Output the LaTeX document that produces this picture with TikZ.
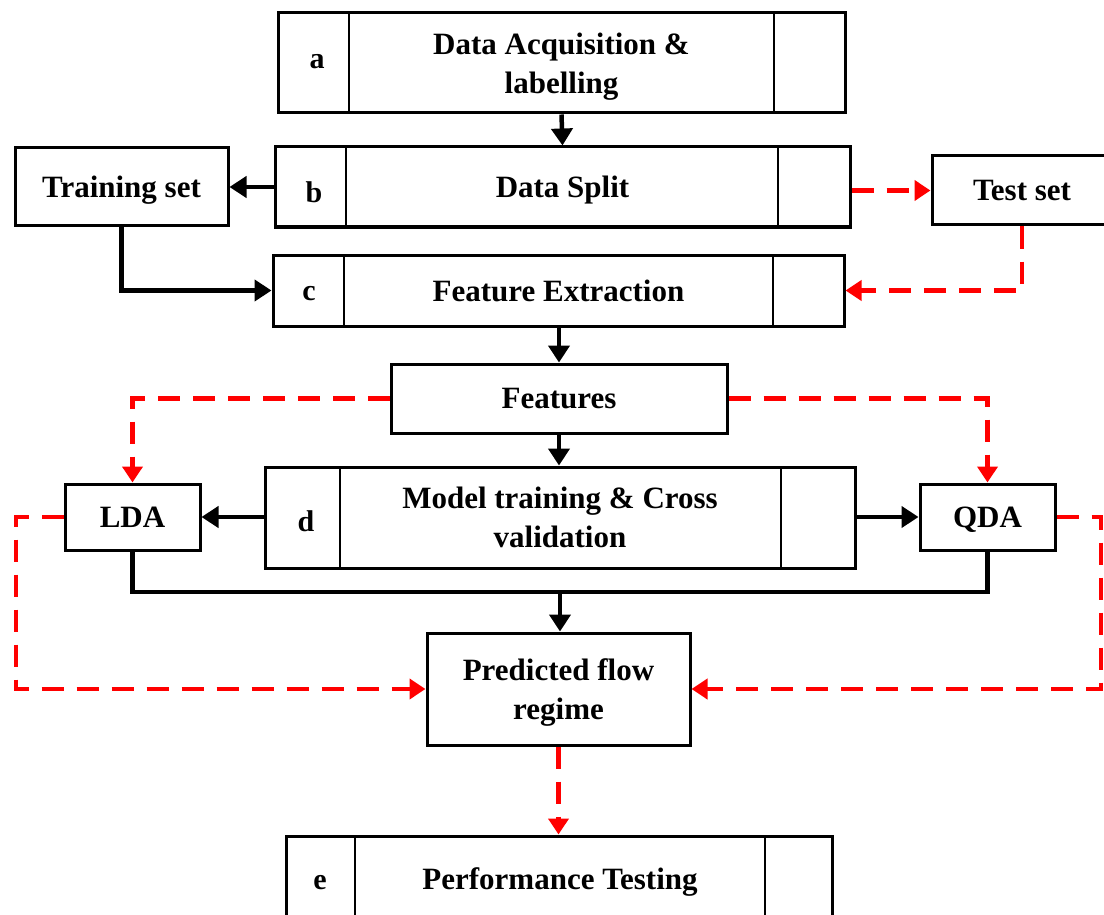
\documentclass[tikz,border=0pt]{standalone}
\usepackage{fontspec}
\setmainfont{Liberation Serif}
\usetikzlibrary{arrows.meta}
\definecolor{flowred}{RGB}{255,0,0}
\tikzset{
  box/.style={draw=black, line width=3pt, fill=white, inner sep=0pt,
    font=\bfseries\fontsize{31}{39}\selectfont, align=center, text depth=0pt},
  tag/.style={inner sep=0pt, font=\bfseries\fontsize{30}{32}\selectfont},
  divider/.style={draw=black, line width=2.2pt},
  flow/.style={draw=black, line width=4.5pt, -{Triangle[length=17pt,width=21pt]}},
  flowline/.style={draw=black, line width=4.5pt},
  alt/.style={draw=flowred, line width=4.5pt, dash pattern=on 22pt off 13pt,
    -{Triangle[length=16pt,width=20pt]}, color=flowred},
}
\begin{document}
\begin{tikzpicture}[x=1pt,y=-1pt]
\useasboundingbox (0,0) rectangle (1104,915);

% stage boxes
\node[box, minimum width=567pt, minimum height=100pt] (a) at (561.5,63) {Data Acquisition \&\\labelling};
\node[box, minimum width=575pt, minimum height=80pt] (b) at (562.5,187) {Data Split};
\node[box, minimum width=571pt, minimum height=71pt] (c) at (558.5,290.5) {Feature Extraction};
\node[box, minimum width=336pt, minimum height=69pt] (feat) at (559,398.5) {Features};
\node[box, minimum width=590pt, minimum height=101pt] (d) at (560,517.5) {Model training \& Cross\\validation};
\node[box, minimum width=263pt, minimum height=112pt] (pred) at (558.5,689) {Predicted flow\\regime};
\node[box, minimum width=546pt, minimum height=110pt] (e) at (559,891) {};
\node[font=\bfseries\fontsize{31}{39}\selectfont, inner sep=0pt, text depth=0pt] (etext) at (560,879) {Performance Testing};

% side boxes
\node[box, minimum width=213pt, minimum height=78pt] (train) at (121.5,187) {Training set};
\node[box, minimum width=180pt, minimum height=69pt] (test) at (1022,190.5) {Test set};
\node[box, minimum width=135pt, minimum height=66pt] (lda) at (132.5,517) {LDA};
\node[box, minimum width=135pt, minimum height=66pt] (qda) at (987.5,517) {QDA};

% cell dividers
\draw[divider] (349,13) -- (349,113) (774,13) -- (774,113);
\draw[divider] (346,147) -- (346,227) (778,147) -- (778,227);
\draw[divider] (344,255) -- (344,326) (773,255) -- (773,326);
\draw[divider] (340,467) -- (340,568) (781,467) -- (781,568);
\draw[divider] (355,836) -- (355,950) (765,836) -- (765,950);

% stage letters
\node[tag] (la) at (317,62) {a};
\node[tag] (lb) at (314,192) {b};
\node[tag] (lc) at (309,294) {c};
\node[tag] (ld) at (306,521) {d};
\node[tag] (le) at (320,883) {e};

% main flow
\draw[flow] (a.south) -- (b.north);
\draw[flow] (b.west) -- (train.east);
\draw[flow] (train.south) |- (c.west);
\draw[flow] (c.south -| feat.north) -- (feat.north);
\draw[flow] (feat.south) -- (feat.south |- d.north);
\draw[flow] (d.west |- lda.east) -- (lda.east);
\draw[flow] (d.east |- qda.west) -- (qda.west);
\coordinate (join) at (560,592);
\draw[flowline] (lda.south) |- (join);
\draw[flowline] (qda.south) |- (join);
\draw[flow] (join) -- (join |- pred.north);

% alternative (test) paths
\draw[alt] (b.east |- test.west) -- (test.west);
\draw[alt] (test.south) |- (c.east);
\draw[alt] (feat.west) -| (lda.north);
\draw[alt] (feat.east) -| (qda.north);
\coordinate (lturn) at (16,517);
\coordinate (rturn) at (1101,517);
\draw[alt] (lda.west) -- (lturn) |- (pred.west);
\draw[alt] (qda.east) -- (rturn) |- (pred.east);
\draw[alt] (pred.south) -- (pred.south |- e.north);
\end{tikzpicture}
\end{document}
